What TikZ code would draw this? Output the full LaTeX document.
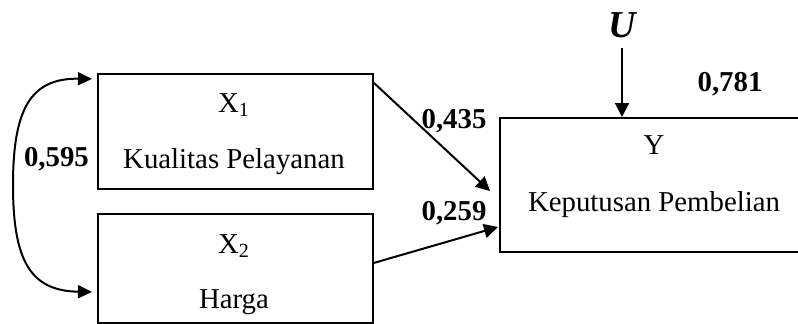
\documentclass[tikz,border=0pt]{standalone}
\usepackage{fontspec}
\setmainfont{Liberation Serif}
\usetikzlibrary{arrows.meta}
\tikzset{
  box/.style={draw, line width=1pt, anchor=north west, inner sep=0pt},
  txt/.style={anchor=base, inner sep=0pt, font=\fontsize{14.4pt}{17pt}\selectfont},
  coef/.style={anchor=base, inner sep=0pt, font=\fontsize{14.4pt}{17pt}\selectfont\bfseries},
  conn/.style={line width=1pt, -{Triangle[length=7pt,width=7pt]}},
  biconn/.style={line width=1pt, {Triangle[length=7pt,width=6.5pt]}-{Triangle[length=7pt,width=6.5pt]}}
}
\begin{document}
\begin{tikzpicture}[x=0.5pt,y=-0.5pt]
\useasboundingbox (0,0) rectangle (798,323);
\clip (0,0) rectangle (798,323);
% boxes
\node[box, minimum width=137.5pt, minimum height=57.5pt] (x1) at (97,73) {};
\node[box, minimum width=137.5pt, minimum height=54.3pt] (x2) at (97,213) {};
\node[box, minimum width=170pt, minimum height=67pt] (y) at (499,117) {};
% texts
\node[txt] (x1a) at (234,112) {X\textsubscript{1}};
\node[txt] (x1b) at (234,168) {Kualitas Pelayanan};
\node[txt] (x2a) at (234,253) {X\textsubscript{2}};
\node[txt] (x2b) at (234,308) {Harga};
\node[txt] (ya) at (654,154) {Y};
\node[txt] (yb) at (654,211) {Keputusan Pembelian};
\node[anchor=base, inner sep=0pt, font=\fontsize{19pt}{22pt}\selectfont\bfseries\itshape] (u) at (622,37) {U};
% coefficients
\node[coef] (c781) at (730,91) {0,781};
\node[coef] (c435) at (454,128) {0,435};
\node[coef] (c259) at (454,220) {0,259};
\node[coef] (c595) at (56.5,166) {0,595};
% connectors
\draw[conn] ([yshift=-5pt]x1.north east) -- ([xshift=-4.5pt,yshift=-3pt]y.west);
\draw[conn] ([yshift=2.7pt]x2.east) -- ([xshift=-0.5pt,yshift=-21pt]y.west);
\draw[conn] (u.south |- 0,48) -- (u.south |- y.north);
\draw[biconn] ([xshift=-2.5pt,yshift=26.3pt]x1.west)
  .. controls (30,78) and (13,110) .. (13,185)
  .. controls (13,260) and (30,291) .. ([xshift=-2.5pt,yshift=-11.8pt]x2.west);
\end{tikzpicture}
\end{document}
